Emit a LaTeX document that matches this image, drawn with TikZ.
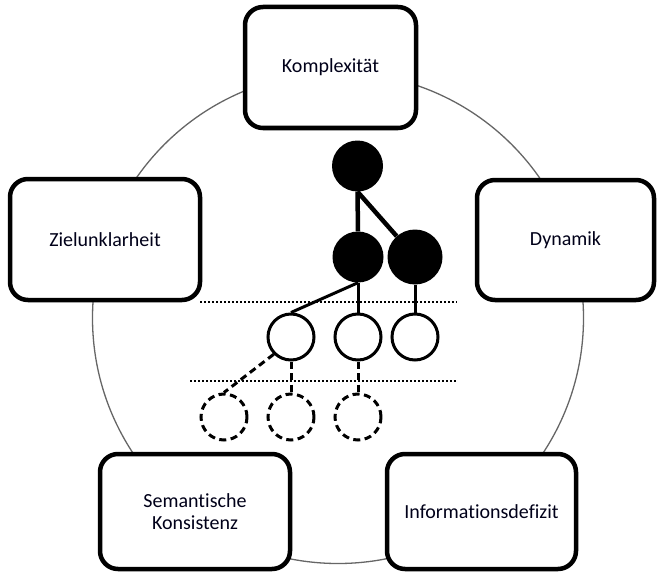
\documentclass[tikz,border=0pt]{standalone}
\usepackage{fontspec}
\setmainfont{Carlito}[Ligatures={NoCommon}]
\begin{document}
\begin{tikzpicture}[x=1pt,y=-1pt,
  box/.style={draw=black,fill=white,line width=4.5pt,rounded corners=18pt,
    font=\fontsize{20}{22}\selectfont,align=center,text=black!90!blue,inner sep=0pt},
  filled/.style={circle,fill=black,minimum size=51pt,inner sep=0pt},
  open/.style={circle,draw=black,fill=white,line width=3pt,minimum size=46pt,inner sep=0pt},
  dashc/.style={circle,draw=black,fill=white,line width=3pt,minimum size=46pt,inner sep=0pt,dash pattern=on 7pt off 4.5pt},
  thick edge/.style={line width=4.5pt},
  mid edge/.style={line width=3pt},
  dash edge/.style={line width=3pt,dash pattern=on 7pt off 4.5pt},
  sep/.style={line width=2pt,dash pattern=on 2pt off 2pt}]
\useasboundingbox (0,0) rectangle (658,575);
\fill[white] (0,0) rectangle (658,575);
% big circle
\draw[black!60,line width=1.3pt] (338,318) circle[radius=245.5];
% separators
\coordinate (s1a) at (200,302); \coordinate (s1b) at (457,302);
\coordinate (s2a) at (190,381); \coordinate (s2b) at (457,381);
\draw[sep] (s1a) -- (s1b);
\draw[sep] (s2a) -- (s2b);
% boxes
\node[box,minimum width=171pt,minimum height=121pt] (K) at (330.5,67.5) {Komplexität};
\node[box,minimum width=190pt,minimum height=121pt] (Z) at (105,239.5) {Zielunklarheit};
\node[box,minimum width=177pt,minimum height=120pt] (D) at (565.5,240) {Dynamik};
\node[box,minimum width=190pt,minimum height=115pt] (S) at (195,511.5) {Semantische\\Konsistenz};
\node[box,minimum width=189pt,minimum height=115pt] (I) at (481.5,511.5) {Informationsdefizit};
% tree nodes
\node[filled] (f1) at (357.5,166) {};
\node[filled] (f2) at (358,257) {};
\node[filled,minimum size=55pt] (f3) at (415,257) {};
\node[open] (o1) at (291,337) {};
\node[open] (o2) at (358,337) {};
\node[open] (o3) at (415,337) {};
\node[dashc] (d1) at (224,417) {};
\node[dashc] (d2) at (291,417) {};
\node[dashc] (d3) at (358,417) {};
% edges
\draw[thick edge] (f1.south) -- (f2.north);
\draw[thick edge] (f1.south) -- (f3);
\draw[mid edge] (f2.south) -- (o1.north);
\draw[mid edge] (f2.south) -- (o2.north);
\draw[mid edge] (f3.south) -- (o3.north);
\draw[dash edge] (o1.south west) -- (d1.north);
\draw[dash edge] (o1.south) -- (d2.north);
\draw[dash edge] (o2.south) -- (d3.north);
\end{tikzpicture}
\end{document}
